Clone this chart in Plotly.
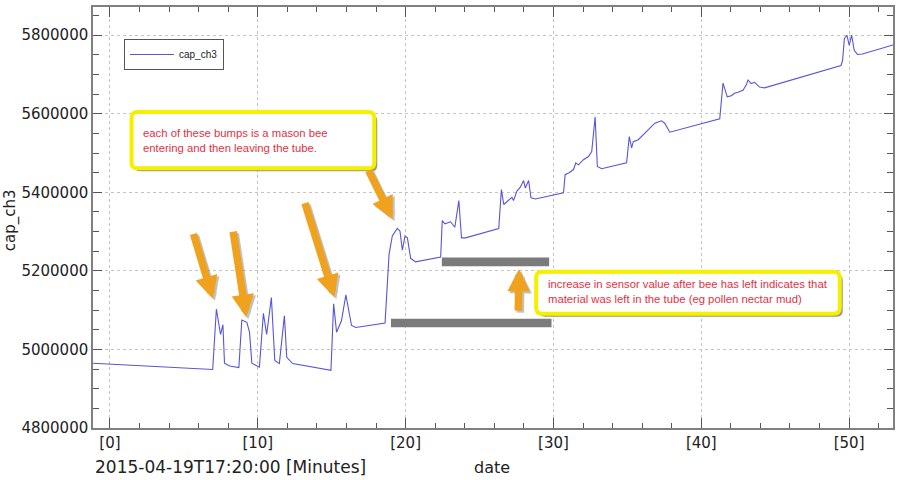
import plotly.graph_objects as go

# ---- data (minutes since 2015-04-19T17:20:00, capacitance value) ----
minutes = [-1.15, 6.95, 7.2, 7.48, 7.64, 7.75, 8.1, 8.72, 8.92, 9.26, 9.44, 9.6,
           10.11, 10.38, 10.6, 10.92, 11.15, 11.46, 11.8, 11.96, 12.36, 14.95,
           15.13, 15.33, 15.66, 15.96, 16.34, 16.63, 18.61, 18.77, 18.88, 19.1,
           19.44, 19.62, 19.78, 19.96, 20.12, 20.34, 20.68, 22.37, 22.48, 22.66,
           23.04, 23.33, 23.6, 23.78, 24.05, 26.3, 26.48, 26.64, 26.97, 27.19,
           27.3, 27.53, 27.76, 27.98, 28.1, 28.32, 28.48, 28.78, 30.68, 30.79,
           31.06, 31.36, 31.51, 31.69, 32.03, 32.37, 32.59, 32.82, 32.97, 33.26,
           34.95, 35.13, 35.29, 35.4, 35.74, 36.19, 36.5, 36.86, 37.31, 37.53,
           37.87, 41.25, 41.47, 41.76, 42.03, 42.25, 42.48, 42.82, 43.04, 43.16,
           43.38, 43.61, 43.94, 44.28, 49.45, 49.56, 49.68, 49.85, 50.01, 50.17,
           50.35, 50.57, 50.9, 52.97]
cap_ch3 = [4965000, 4949000, 5103000, 5038000, 5063000, 4965000, 4958000, 4954000,
           5075000, 5069000, 5044000, 4965000, 4955000, 5092000, 5038000, 5132000,
           4972000, 4964000, 5086000, 4980000, 4964000, 4947000, 5116000, 5044000,
           5073000, 5139000, 5061000, 5056000, 5067000, 5175000, 5242000, 5289000,
           5308000, 5301000, 5253000, 5289000, 5284000, 5232000, 5223000, 5235000,
           5328000, 5320000, 5325000, 5311000, 5379000, 5284000, 5284000, 5308000,
           5407000, 5369000, 5379000, 5387000, 5379000, 5403000, 5413000, 5430000,
           5411000, 5430000, 5386000, 5383000, 5399000, 5445000, 5450000, 5458000,
           5475000, 5470000, 5483000, 5491000, 5504000, 5592000, 5466000, 5460000,
           5475000, 5542000, 5513000, 5529000, 5534000, 5551000, 5565000, 5576000,
           5582000, 5576000, 5553000, 5587000, 5678000, 5643000, 5646000, 5652000,
           5655000, 5660000, 5673000, 5686000, 5677000, 5680000, 5668000, 5666000,
           5723000, 5736000, 5791000, 5800000, 5774000, 5800000, 5761000, 5751000,
           5752000, 5775000]

x_tick_vals = [0, 10, 20, 30, 40, 50]
x_tick_text = ["[0]", "[10]", "[20]", "[30]", "[40]", "[50]"]

# annotation geometry (data coordinates)
arrow_tails = [(5.62, 5297700), (8.32, 5303800), (13.16, 5376300), (17.45, 5459000), (27.62, 5094900)]
arrow_tips = [(6.97, 5128900), (9.22, 5082200), (15.18, 5132900), (19.12, 5331700), (27.67, 5205000)]
gray_bars = [(19.01, 29.87, 5056800, 5078100), (22.45, 29.71, 5211500, 5234300)]
note_boxes = [(1.46, 17.88, 5461000, 5604500), (28.83, 49.37, 5090800, 5198100)]
note_texts = ["each of these bumps is a mason bee<br>entering and then leaving the tube.",
              "increase in sensor value after bee has left indicates that<br>"
              "material was left in the tube (eg pollen nectar mud)"]
note_text_pos = [(2.09, 5532000), (29.49, 5147400)]

X_RANGE = [-1.147, 52.97]
Y_RANGE = [4800000, 5871800]
PX_X = 802 / (X_RANGE[1] - X_RANGE[0])
PX_Y = 423 / (Y_RANGE[1] - Y_RANGE[0])


def rounded_path(x0, x1, y0, y1, r_px=6):
    rx = r_px / PX_X
    ry = r_px / PX_Y
    return (f"M{x0+rx},{y1} L{x1-rx},{y1} Q{x1},{y1} {x1},{y1-ry} "
            f"L{x1},{y0+ry} Q{x1},{y0} {x1-rx},{y0} L{x0+rx},{y0} "
            f"Q{x0},{y0} {x0},{y0+ry} L{x0},{y1-ry} Q{x0},{y1} {x0+rx},{y1} Z")


fig = go.Figure()
fig.add_trace(go.Scatter(x=minutes, y=cap_ch3, mode="lines", name="cap_ch3",
                         line=dict(color="#5656d6", width=1.1)))

shapes = []
for (x0, x1, y0, y1) in gray_bars:
    shapes.append(dict(type="rect", xref="x", yref="y", x0=x0, x1=x1, y0=y0, y1=y1,
                       fillcolor="#7b7b7b", line=dict(width=0), layer="above"))
for (x0, x1, y0, y1) in note_boxes:
    dx = 3 / PX_X
    dy = 3 / PX_Y
    shapes.append(dict(type="path", xref="x", yref="y",
                       path=rounded_path(x0 + dx, x1 + dx, y0 - dy, y1 - dy),
                       fillcolor="rgba(70,70,40,0.55)", line=dict(width=0), layer="above"))
    shapes.append(dict(type="path", xref="x", yref="y", path=rounded_path(x0, x1, y0, y1),
                       fillcolor="white", line=dict(color="#f4f000", width=4), layer="above"))

annotations = []
for (tx, ty), (hx, hy) in zip(arrow_tails, arrow_tips):
    for shadow in (True, False):
        annotations.append(dict(
            x=hx, y=hy, ax=tx, ay=ty, xref="x", yref="y", axref="x", ayref="y",
            text="", showarrow=True, arrowhead=2, arrowsize=0.6, arrowwidth=7.5,
            arrowcolor="rgba(80,80,80,0.35)" if shadow else "#f0a21e",
            xshift=2 if shadow else 0, yshift=-2 if shadow else 0, standoff=0))
for (px, py), txt in zip(note_text_pos, note_texts):
    annotations.append(dict(x=px, y=py, xref="x", yref="y", text=txt, showarrow=False,
                            xanchor="left", yanchor="middle", align="left",
                            font=dict(family="Liberation Sans", size=11.3, color="#e3303f")))

annotations += [
    dict(x=0, y=-0.092, xref="paper", yref="paper", text="2015-04-19T17:20:00 [Minutes]",
         showarrow=False, xanchor="left", yanchor="middle",
         font=dict(family="DejaVu Sans", size=17, color="#222")),
    dict(x=0.4988, y=-0.095, xref="paper", yref="paper", text="date",
         showarrow=False, xanchor="center", yanchor="middle",
         font=dict(family="DejaVu Sans", size=16, color="#222")),
    dict(x=-0.1035, y=0.494, xref="paper", yref="paper", text="cap_ch3", textangle=-90,
         showarrow=False, xanchor="center", yanchor="middle",
         font=dict(family="DejaVu Sans", size=15, color="#222")),
]

grid = dict(showgrid=True, gridcolor="#c4c4c4", griddash="3px,3px", gridwidth=1,
            showline=True, linecolor="#808080", linewidth=1.5, mirror="allticks",
            ticks="inside", tickcolor="#555", tickwidth=1, zeroline=False,
            tickfont=dict(family="DejaVu Sans", size=15, color="#222"))

fig.update_layout(
    width=900, height=480,
    margin=dict(l=93, r=5, t=5, b=52),
    paper_bgcolor="white", plot_bgcolor="white",
    showlegend=True,
    legend=dict(x=0.0387, y=0.924, xanchor="left", yanchor="top",
                bgcolor="white", bordercolor="#555", borderwidth=1,
                font=dict(family="Liberation Sans", size=10, color="#222"),
                itemwidth=44),
    xaxis=dict(range=X_RANGE, tickmode="array", tickvals=x_tick_vals, ticktext=x_tick_text,
               ticklen=10,
               minor=dict(ticks="inside", ticklen=5, dtick=2, tick0=0, tickcolor="#555",
                          showgrid=False),
               **grid),
    yaxis=dict(range=Y_RANGE, dtick=200000, tick0=4800000, tickformat="d", ticklen=9,
               minor=dict(ticks="inside", ticklen=6, dtick=50000, tick0=4800000,
                          tickcolor="#555", showgrid=False),
               **grid),
    shapes=shapes,
    annotations=annotations,
)

fig.write_html("out.html")
